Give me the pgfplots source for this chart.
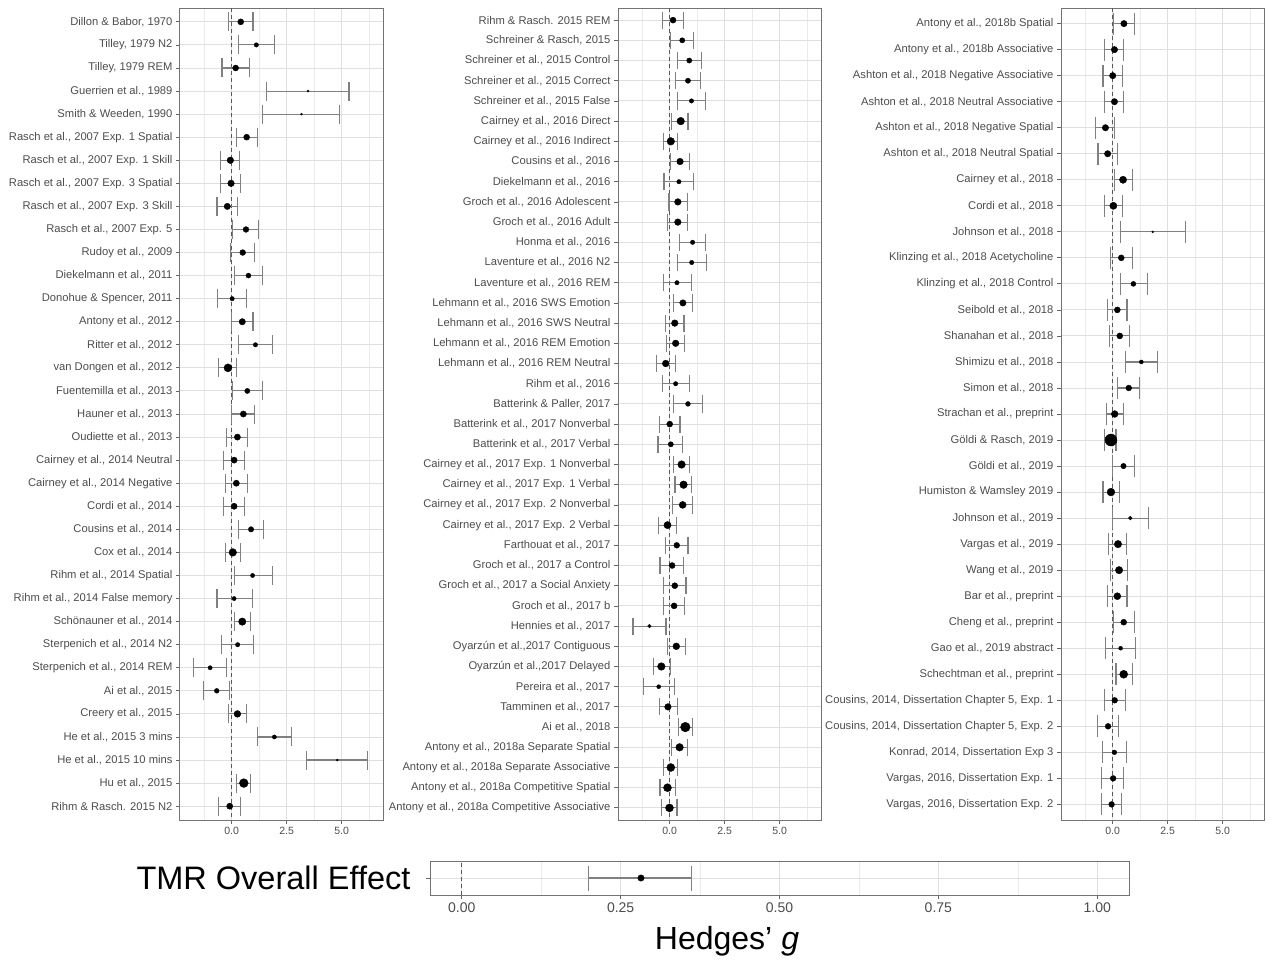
\documentclass[border=0pt]{standalone}
\usepackage{fontspec}
\setmainfont{Liberation Sans}
\usepackage{pgfplots}
\usepackage{pgfplotstable}
\pgfplotsset{compat=1.18}
\definecolor{errgray}{gray}{0.5}
\definecolor{gridmaj}{gray}{0.88}
\definecolor{gridmin}{gray}{0.92}
\definecolor{framegray}{gray}{0.45}
\definecolor{labgray}{gray}{0.30}

\pgfplotstableread{
r g lo hi s
1 0.41 -0.14 0.97 3.0
2 1.12 0.32 1.95 2.2
3 0.18 -0.44 0.79 3.0
4 3.47 1.58 5.33 1.0
5 3.17 1.41 4.91 1.0
6 0.68 0.21 1.17 3.0
7 -0.06 -0.52 0.36 3.3
8 -0.03 -0.52 0.41 3.3
9 -0.20 -0.67 0.27 3.2
10 0.65 0.03 1.21 2.9
11 0.50 -0.06 1.03 2.9
12 0.76 0.12 1.41 2.5
13 0.02 -0.65 0.68 2.2
14 0.48 -0.02 0.97 3.2
15 1.08 0.32 1.85 2.2
16 -0.17 -0.61 0.23 4.0
17 0.71 0.03 1.38 2.6
18 0.53 0.00 1.05 3.1
19 0.26 -0.24 0.73 3.1
20 0.11 -0.39 0.59 3.1
21 0.21 -0.27 0.70 3.1
22 0.11 -0.39 0.58 3.1
23 0.88 0.32 1.44 2.7
24 0.05 -0.30 0.39 3.8
25 0.95 0.14 1.85 2.1
26 0.11 -0.67 0.95 2.1
27 0.48 0.14 0.85 3.7
28 0.27 -0.45 0.99 2.2
29 -0.98 -1.74 -0.23 2.1
30 -0.68 -1.27 -0.11 2.4
31 0.26 -0.15 0.68 3.4
32 1.94 1.17 2.73 2.1
33 4.80 3.42 6.17 1.0
34 0.55 0.20 0.85 4.4
35 -0.09 -0.59 0.38 3.1
}\tabA

\pgfplotstableread{
r g lo hi s
1 0.15 -0.33 0.62 3.0
2 0.57 0.02 1.10 2.6
3 0.89 0.35 1.43 2.6
4 0.83 0.27 1.40 2.6
5 0.99 0.37 1.61 2.2
6 0.50 0.07 0.83 3.8
7 0.05 -0.29 0.37 3.8
8 0.47 0.05 0.89 3.3
9 0.42 -0.26 1.07 2.2
10 0.37 -0.03 0.80 3.3
11 0.37 -0.08 0.80 3.3
12 1.04 0.45 1.62 2.2
13 1.00 0.35 1.67 2.2
14 0.33 -0.30 0.99 2.2
15 0.60 0.17 1.04 3.2
16 0.23 -0.18 0.65 3.3
17 0.27 -0.14 0.69 3.3
18 -0.18 -0.59 0.26 3.4
19 0.27 -0.33 0.92 2.2
20 0.83 0.17 1.49 2.4
21 0.00 -0.48 0.47 3.0
22 0.05 -0.53 0.59 2.6
23 0.54 0.17 0.92 3.8
24 0.63 0.24 1.00 3.8
25 0.59 0.14 1.04 3.5
26 -0.10 -0.51 0.29 3.6
27 0.32 -0.18 0.83 2.9
28 0.11 -0.44 0.62 3.0
29 0.23 -0.29 0.74 3.0
30 0.20 -0.29 0.69 3.0
31 -0.92 -1.67 -0.17 1.8
32 0.30 -0.10 0.72 3.4
33 -0.38 -0.74 0.05 3.8
34 -0.50 -1.19 0.23 2.0
35 -0.08 -0.48 0.35 3.3
36 0.71 0.39 1.04 4.8
37 0.45 0.07 0.80 3.8
38 0.05 -0.29 0.37 4.0
39 -0.10 -0.44 0.27 4.0
40 -0.01 -0.36 0.33 4.0
}\tabB

\pgfplotstableread{
r g lo hi s
1 0.51 0.03 0.99 3.2
2 0.08 -0.36 0.51 3.2
3 0.00 -0.44 0.44 3.2
4 0.08 -0.36 0.50 3.2
5 -0.33 -0.79 0.09 3.2
6 -0.23 -0.67 0.21 3.2
7 0.47 0.08 0.88 3.6
8 0.03 -0.36 0.44 3.6
9 1.82 0.35 3.30 1.0
10 0.39 -0.09 0.88 3.0
11 0.94 0.35 1.58 2.5
12 0.21 -0.24 0.65 3.0
13 0.32 -0.15 0.77 3.0
14 1.30 0.60 2.03 2.0
15 0.73 0.23 1.23 2.9
16 0.09 -0.30 0.49 3.4
17 -0.08 -0.36 0.15 6.0
18 0.49 0.00 0.99 2.7
19 -0.08 -0.44 0.29 3.9
20 0.80 0.00 1.61 1.9
21 0.24 -0.18 0.61 3.7
22 0.29 -0.09 0.68 3.7
23 0.21 -0.24 0.65 3.5
24 0.50 0.05 0.99 3.0
25 0.36 -0.32 1.05 2.0
26 0.50 0.15 0.88 4.0
27 0.09 -0.36 0.58 2.9
28 -0.21 -0.68 0.27 2.9
29 0.08 -0.45 0.64 2.3
30 0.02 -0.49 0.51 2.9
31 -0.05 -0.51 0.42 2.9
}\tabC

\pgfplotstableread{
r g lo hi s
1 0.282 0.200 0.362 3.2
}\tabD

\pgfplotsset{
  base/.style={
    scale only axis, anchor=north west,
    xmajorgrids, xminorgrids, ymajorgrids,
    major grid style={draw=gridmaj, line width=0.9pt},
    minor grid style={draw=gridmin, line width=0.6pt},
    axis line style={draw=framegray, line width=1pt},
    tick style={draw=black!60, line width=0.8pt},
    major tick length=4pt, minor tick length=0pt,
    tick align=outside, xtick pos=bottom, ytick pos=left,
  },
  forest/.style={
    base, y dir=reverse,
    width=203.5pt, height=812pt,
    xmin=-2.35, xmax=6.9,
    xtick={0,2.5,5}, xticklabels={0.0,2.5,5.0},
    minor xtick={-1.25,1.25,3.75,6.25},
    yticklabel style={font=\fontsize{11.2}{13}\selectfont, text=labgray},
    xticklabel style={font=\fontsize{10.5}{12}\selectfont, text=labgray},
  },
  ciline/.style={forget plot, mark=none, color=errgray, draw=errgray, line width=1.1pt,
    quiver={u=\thisrow{hi}-\thisrow{lo}, v=0,
      every arrow/.append style={draw=errgray, color=errgray, line width=1.1pt}}},
  cicap/.style={forget plot, only marks, mark=|, mark size=#1,
    mark options={draw=errgray, line width=1.1pt}},
  pts/.style={scatter, only marks, mark=*, forget plot,
    scatter/use mapped color={draw=black, fill=black},
    visualization depends on={\thisrow{s} \as \ms},
    scatter/@pre marker code/.append style={/tikz/mark size=\ms pt}},
  zline/.style={forget plot, draw=black!65, line width=1.2pt, dash pattern=on 4pt off 3pt},
}

\begin{document}
\begin{tikzpicture}
\useasboundingbox (0,0) rectangle (1270pt,-963pt);

% Panel 1
\begin{axis}[forest, at={(180pt,-8pt)}, ymin=0.4, ymax=35.6,
  ytick={1,...,35},
  yticklabels={{Dillon \& Babor, 1970},{Tilley, 1979 N2},{Tilley, 1979 REM},{Guerrien et al., 1989},{Smith \& Weeden, 1990},{Rasch et al., 2007 Exp. 1 Spatial},{Rasch et al., 2007 Exp. 1 Skill},{Rasch et al., 2007 Exp. 3 Spatial},{Rasch et al., 2007 Exp. 3 Skill},{Rasch et al., 2007 Exp. 5},{Rudoy et al., 2009},{Diekelmann et al., 2011},{Donohue \& Spencer, 2011},{Antony et al., 2012},{Ritter et al., 2012},{van Dongen et al., 2012},{Fuentemilla et al., 2013},{Hauner et al., 2013},{Oudiette et al., 2013},{Cairney et al., 2014 Neutral},{Cairney et al., 2014 Negative},{Cordi et al., 2014},{Cousins et al., 2014},{Cox et al., 2014},{Rihm et al., 2014 Spatial},{Rihm et al., 2014 False memory},{Schönauner et al., 2014},{Sterpenich et al., 2014 N2},{Sterpenich et al., 2014 REM},{Ai et al., 2015},{Creery et al., 2015},{He et al., 2015 3 mins},{He et al., 2015 10 mins},{Hu et al., 2015},{Rihm \& Rasch. 2015 N2}}]
\addplot[zline] coordinates {(0,0.4) (0,35.6)};
\addplot[ciline] table[x=lo, y=r] {\tabA};
\addplot[cicap=9.5pt] table[x=lo, y=r] {\tabA};
\addplot[cicap=9.5pt] table[x=hi, y=r] {\tabA};
\addplot[pts] table[x=g, y=r] {\tabA};
\end{axis}

% Panel 2
\begin{axis}[forest, at={(618pt,-8pt)}, ymin=0.4, ymax=40.6,
  ytick={1,...,40},
  yticklabels={{Rihm \& Rasch. 2015 REM},{Schreiner \& Rasch, 2015},{Schreiner et al., 2015 Control},{Schreiner et al., 2015 Correct},{Schreiner et al., 2015 False},{Cairney et al., 2016 Direct},{Cairney et al., 2016 Indirect},{Cousins et al., 2016},{Diekelmann et al., 2016},{Groch et al., 2016 Adolescent},{Groch et al., 2016 Adult},{Honma et al., 2016},{Laventure et al., 2016 N2},{Laventure et al., 2016 REM},{Lehmann et al., 2016 SWS Emotion},{Lehmann et al., 2016 SWS Neutral},{Lehmann et al., 2016 REM Emotion},{Lehmann et al., 2016 REM Neutral},{Rihm et al., 2016},{Batterink \& Paller, 2017},{Batterink et al., 2017 Nonverbal},{Batterink et al., 2017 Verbal},{Cairney et al., 2017 Exp. 1 Nonverbal},{Cairney et al., 2017 Exp. 1 Verbal},{Cairney et al., 2017 Exp. 2 Nonverbal},{Cairney et al., 2017 Exp. 2 Verbal},{Farthouat et al., 2017},{Groch et al., 2017 a Control},{Groch et al., 2017 a Social Anxiety},{Groch et al., 2017 b},{Hennies et al., 2017},{Oyarzún et al.,2017 Contiguous},{Oyarzún et al.,2017 Delayed},{Pereira et al., 2017},{Tamminen et al., 2017},{Ai et al., 2018},{Antony et al., 2018a Separate Spatial},{Antony et al., 2018a Separate Associative},{Antony et al., 2018a Competitive Spatial},{Antony et al., 2018a Competitive Associative}}]
\addplot[zline] coordinates {(0,0.4) (0,40.6)};
\addplot[ciline] table[x=lo, y=r] {\tabB};
\addplot[cicap=8.6pt] table[x=lo, y=r] {\tabB};
\addplot[cicap=8.6pt] table[x=hi, y=r] {\tabB};
\addplot[pts] table[x=g, y=r] {\tabB};
\end{axis}

% Panel 3
\begin{axis}[forest, at={(1061pt,-8pt)}, ymin=0.4, ymax=31.6,
  ytick={1,...,31},
  yticklabels={{Antony et al., 2018b Spatial},{Antony et al., 2018b Associative},{Ashton et al., 2018 Negative Associative},{Ashton et al., 2018 Neutral Associative},{Ashton et al., 2018 Negative Spatial},{Ashton et al., 2018 Neutral Spatial},{Cairney et al., 2018},{Cordi et al., 2018},{Johnson et al., 2018},{Klinzing et al., 2018 Acetycholine},{Klinzing et al., 2018 Control},{Seibold et al., 2018},{Shanahan et al., 2018},{Shimizu et al., 2018},{Simon et al., 2018},{Strachan et al., preprint},{Göldi \& Rasch, 2019},{Göldi et al., 2019},{Humiston \& Wamsley 2019},{Johnson et al., 2019},{Vargas et al., 2019},{Wang et al., 2019},{Bar et al., preprint},{Cheng et al., preprint},{Gao et al., 2019 abstract},{Schechtman et al., preprint},{Cousins, 2014, Dissertation Chapter 5, Exp. 1},{Cousins, 2014, Dissertation Chapter 5, Exp. 2},{Konrad, 2014, Dissertation Exp 3},{Vargas, 2016, Dissertation Exp. 1},{Vargas, 2016, Dissertation Exp. 2}}]
\addplot[zline] coordinates {(0,0.4) (0,31.6)};
\addplot[ciline] table[x=lo, y=r] {\tabC};
\addplot[cicap=11pt] table[x=lo, y=r] {\tabC};
\addplot[cicap=11pt] table[x=hi, y=r] {\tabC};
\addplot[pts] table[x=g, y=r] {\tabC};
\end{axis}

% Overall effect
\begin{axis}[base, at={(430pt,-861pt)}, width=699pt, height=34pt,
  xmin=-0.05, xmax=1.05, ymin=0.4, ymax=1.6,
  xtick={0,0.25,0.5,0.75,1}, xticklabels={0.00,0.25,0.50,0.75,1.00},
  minor xtick={0.125,0.375,0.625,0.875},
  ytick={1}, yticklabels={TMR Overall Effect},
  yticklabel style={font=\fontsize{32.5}{36}\selectfont, text=black, xshift=-12pt},
  xticklabel style={font=\fontsize{14}{16}\selectfont, text=labgray}]
\addplot[zline] coordinates {(0,0.4) (0,1.6)};
\addplot[ciline] table[x=lo, y=r] {\tabD};
\addplot[cicap=12.5pt] table[x=lo, y=r] {\tabD};
\addplot[cicap=12.5pt] table[x=hi, y=r] {\tabD};
\addplot[pts] table[x=g, y=r] {\tabD};
\end{axis}

\node[font=\fontsize{32}{38}\selectfont, anchor=base] at (727pt,-949pt) {Hedges’ \textit{g}};
\end{tikzpicture}
\end{document}
